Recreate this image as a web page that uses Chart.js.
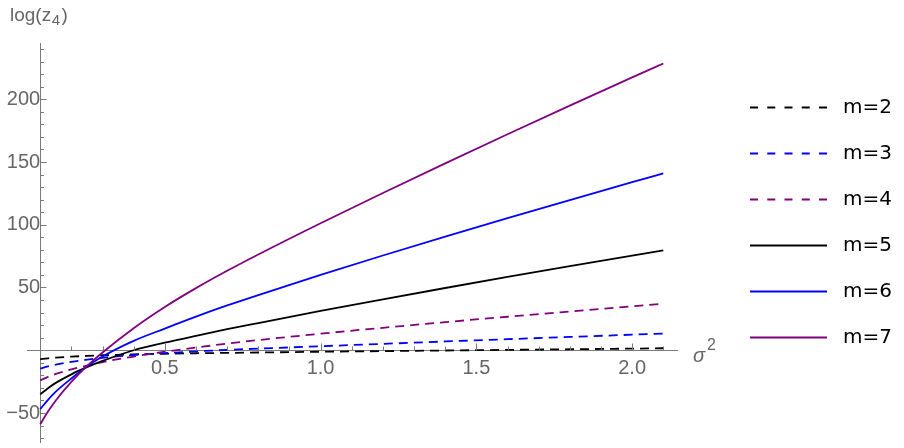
<!DOCTYPE html>
<html>
<head>
<meta charset="utf-8">
<script src="https://cdn.jsdelivr.net/npm/chart.js@4.4.1/dist/chart.umd.min.js"></script>
<style>
  html, body { margin: 0; padding: 0; background: #fff; }
  #wrap { width: 904px; height: 448px; }
</style>
</head>
<body>
<div id="wrap"><canvas id="myChart"></canvas></div>
<script>
// sigma^2 sample points
const xs = [0.1, 0.125, 0.15, 0.2, 0.25, 0.3, 0.4, 0.5, 0.6, 0.7, 0.8, 1.0, 1.2, 1.4, 1.6, 1.8, 2.0, 2.1];

// log(z4) for each m
const m2 = [-7.0, -6.4, -5.9, -5.1, -4.5, -4.0, -3.3, -2.8, -2.4, -2.1, -1.8, -1.2, -0.7, -0.2, 0.3, 0.8, 1.3, 1.6];
const m3 = [-14.6, -12.9, -11.5, -9.3, -7.5, -6.0, -3.8, -2.3, -0.9, 0.3, 1.3, 3.2, 5.1, 7.0, 8.8, 10.6, 12.4, 13.3];
const m4 = [-23.9, -21.2, -18.9, -15.2, -12.2, -9.4, -5.0, -1.2, 2.1, 5.3, 8.1, 13.2, 17.9, 22.4, 26.7, 30.9, 35.0, 37.0];
const m5 = [-35.1, -30.2, -26.0, -19.2, -13.5, -8.5, 0.0, 6.0, 11.5, 16.8, 21.7, 31.3, 40.6, 49.6, 58.4, 67.0, 75.4, 79.5];
const m6 = [-47.0, -39.5, -33.0, -22.5, -13.0, -5.0, 7.5, 17.3, 26.8, 35.7, 44.0, 60.0, 75.5, 90.5, 105.2, 119.7, 133.9, 140.9];
const m7 = [-59.0, -48.8, -40.0, -25.2, -12.7, -1.8, 17.6, 34.5, 49.5, 63.3, 76.3, 101.2, 125.3, 148.9, 172.1, 194.9, 217.4, 228.5];

const labels = ['m=2', 'm=3', 'm=4', 'm=5', 'm=6', 'm=7'];
const values = [m2, m3, m4, m5, m6, m7];
const colors = ['#000000', '#0000ff', '#800080', '#000000', '#0000ff', '#800080'];
const dashed = [true, true, true, false, false, false];

// ticks
const xTickLabels = [0.5, 1.0, 1.5, 2.0];
const yTickLabels = [-50, 50, 100, 150, 200];

const axisColor = '#7a7a7a';
const labelColor = '#666666';
const sans = '"Liberation Sans", Arial, sans-serif';
Chart.defaults.font.family = sans;

// minor/major tick marks drawn inward, plus the axis titles
const axisDecor = {
  id: 'axisDecor',
  afterDraw(chart) {
    const ctx = chart.ctx;
    const x = chart.scales.x, y = chart.scales.y;
    const x0 = Math.round(x.getPixelForValue(0.1)) + 0.5;
    const y0 = Math.round(y.getPixelForValue(0)) + 0.5;
    ctx.save();
    ctx.strokeStyle = axisColor;
    ctx.lineWidth = 1;
    ctx.beginPath();
    for (let i = 2; i <= 21; i++) {
      const major = i % 5 === 0;
      const px = Math.round(x.getPixelForValue(i / 10)) + 0.5;
      ctx.moveTo(px, y0);
      ctx.lineTo(px, y0 - (major ? 7 : 4));
    }
    for (let v = -70; v <= 240; v += 10) {
      if (v === 0) continue;
      const major = v % 50 === 0;
      const py = Math.round(y.getPixelForValue(v)) + 0.5;
      ctx.moveTo(x0, py);
      ctx.lineTo(x0 + (major ? 6 : 3.5), py);
    }
    ctx.stroke();

    ctx.fillStyle = labelColor;
    ctx.textAlign = 'left';
    ctx.textBaseline = 'alphabetic';
    let tx = 10;
    ctx.font = '19px ' + sans;
    ctx.fillText('log(z', tx, 20.5);
    tx += ctx.measureText('log(z').width + 0.5;
    ctx.font = '15px ' + sans;
    ctx.fillText('4', tx, 25);
    tx += ctx.measureText('4').width + 1.5;
    ctx.font = '19px ' + sans;
    ctx.fillText(')', tx, 20.5);

    const sx = x.right + 16;
    ctx.font = 'italic 20px ' + sans;
    ctx.fillText('σ', sx, y0 + 11.5);
    const sw = ctx.measureText('σ').width;
    ctx.font = '16px ' + sans;
    ctx.fillText('2', sx + sw + 2, y0 - 0.5);
    ctx.restore();
  }
};

// legend at the right, one row per dataset
const sideLegend = {
  id: 'sideLegend',
  afterDraw(chart) {
    const ctx = chart.ctx;
    const left = chart.chartArea.right + 73;
    ctx.save();
    chart.data.datasets.forEach((ds, i) => {
      const cy = Math.round(106.7 + i * 46.1) + 0.5;
      ctx.strokeStyle = ds.borderColor;
      ctx.lineWidth = ds.borderWidth;
      ctx.setLineDash(ds.borderDash.length ? [8, 9.25] : []);
      ctx.beginPath();
      ctx.moveTo(left, cy);
      ctx.lineTo(left + 77, cy);
      ctx.stroke();
      ctx.fillStyle = '#000000';
      ctx.font = '20px "DejaVu Sans", sans-serif';
      ctx.textAlign = 'left';
      ctx.textBaseline = 'middle';
      ctx.fillText(ds.label, left + 93, cy);
    });
    ctx.restore();
  }
};

const data = {
  datasets: values.map((vals, i) => ({
    label: labels[i],
    data: xs.map((xv, j) => ({ x: xv, y: vals[j] })),
    borderColor: colors[i],
    backgroundColor: colors[i],
    borderWidth: 1.8,
    borderDash: dashed[i] ? [9, 6] : [],
    pointRadius: 0,
    fill: false,
    cubicInterpolationMode: 'monotone',
    order: values.length - i,
    xAxisID: 'x',
    yAxisID: 'y'
  }))
};

const config = {
  type: 'line',
  data,
  options: {
    responsive: true,
    maintainAspectRatio: false,
    animation: false,
    layout: { padding: { left: 27, right: 227, top: 0, bottom: 6 } },
    scales: {
      x: {
        type: 'linear',
        min: 0.0576,
        max: 2.144,
        position: { y: 0 },
        afterBuildTicks: s => { s.ticks = xTickLabels.map(v => ({ value: v })); },
        afterFit: s => { s.paddingLeft = 0; s.paddingRight = 0; },
        ticks: {
          callback: v => v.toFixed(1),
          color: labelColor,
          font: { size: 20 },
          padding: -2,
          autoSkip: false,
          maxRotation: 0
        },
        grid: { display: false },
        border: { display: true, color: axisColor, width: 1 }
      },
      y: {
        type: 'linear',
        min: -73.1,
        max: 244.8,
        position: { x: 0.1 },
        afterBuildTicks: s => { s.ticks = yTickLabels.map(v => ({ value: v })); },
        afterFit: s => { s.paddingTop = 0; s.paddingBottom = 0; },
        ticks: {
          callback: v => (v < 0 ? '\u2212' + Math.abs(v) : String(v)),
          color: labelColor,
          font: { size: 20 },
          padding: 8
        },
        grid: { display: false },
        border: { display: true, color: axisColor, width: 1 }
      },
      // invisible spacer so the plot box starts where the original one does
      xTop: {
        axis: 'x', position: 'top', display: true,
        ticks: { display: false }, grid: { display: false }, border: { display: false },
        afterFit: s => { s.height = 43; }
      }
    },
    plugins: {
      legend: { display: false },
      tooltip: { enabled: false }
    }
  },
  plugins: [axisDecor, sideLegend]
};

const myChart = new Chart(document.getElementById('myChart'), config);
</script>
</body>
</html>
